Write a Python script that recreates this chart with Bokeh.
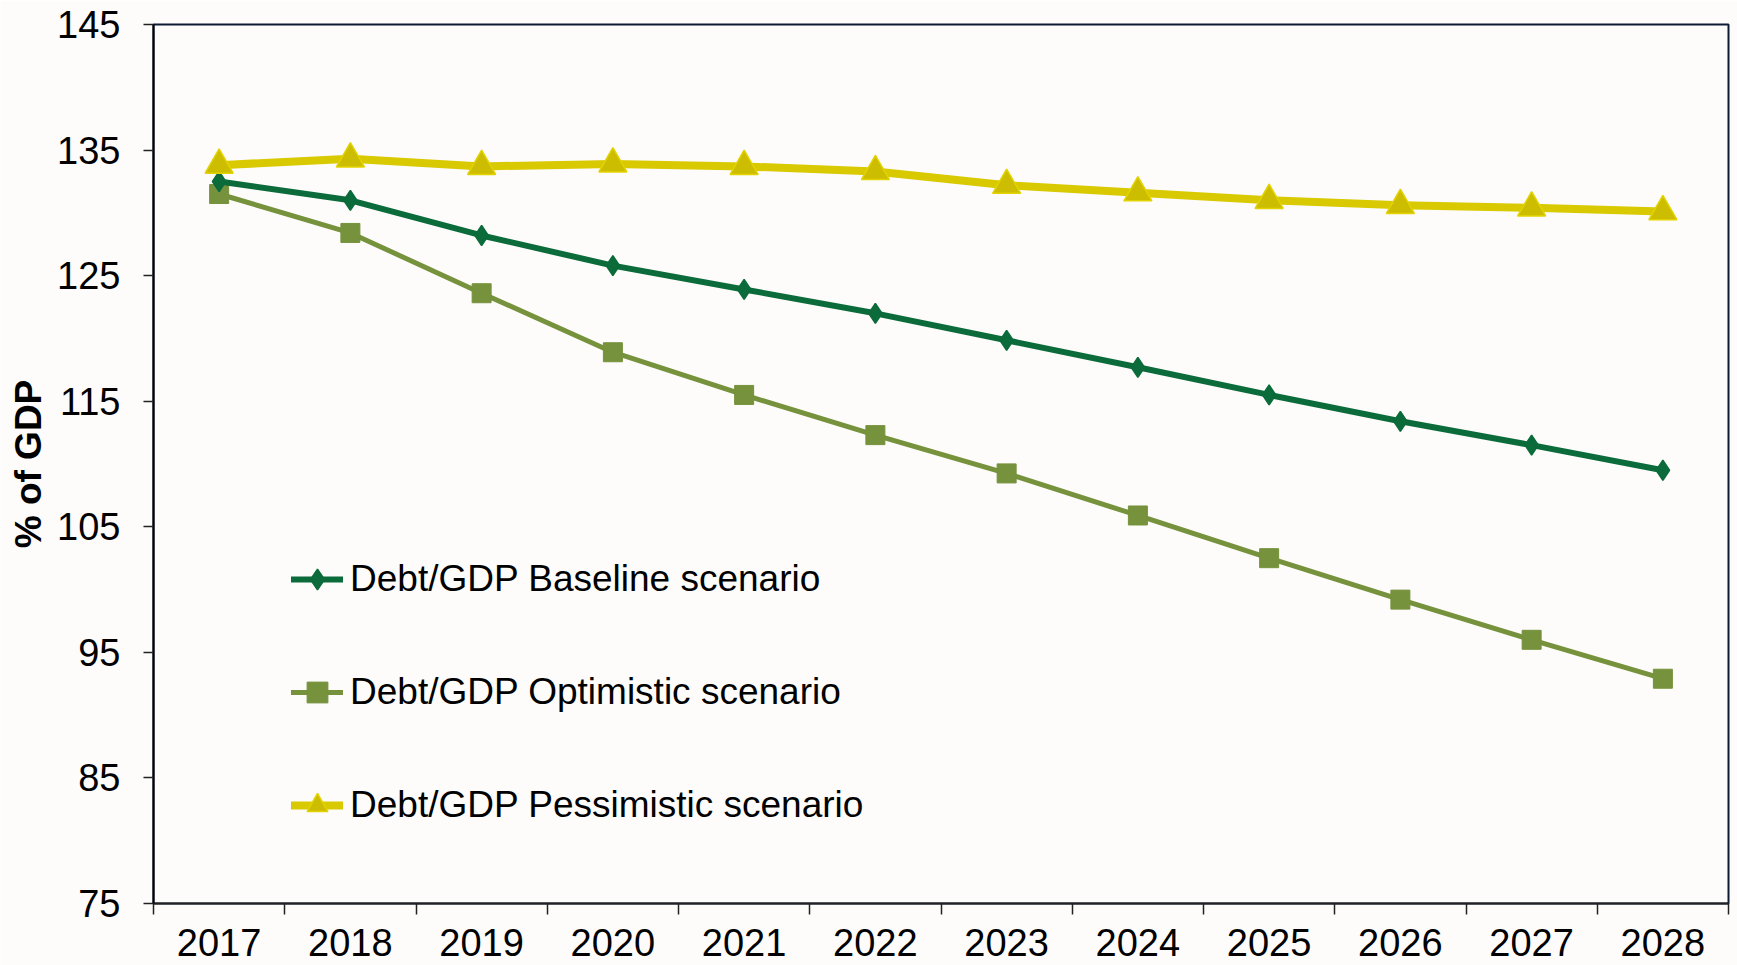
from bokeh.plotting import figure
from bokeh.models import FixedTicker, Legend, LegendItem, Range1d
from bokeh.embed import file_html
from bokeh.resources import INLINE

years = [2017, 2018, 2019, 2020, 2021, 2022, 2023, 2024, 2025, 2026, 2027, 2028]
baseline = [132.5, 131.0, 128.2, 125.8, 123.9, 122.0, 119.85, 117.7, 115.5, 113.4, 111.5, 109.5]
optimistic = [131.5, 128.4, 123.6, 118.9, 115.5, 112.3, 109.25, 105.9, 102.5, 99.2, 96.0, 92.9]
pessimistic = [133.8, 134.3, 133.7, 133.9, 133.7, 133.3, 132.2, 131.6, 131.0, 130.6, 130.4, 130.1]
y_ticks = [75, 85, 95, 105, 115, 125, 135, 145]
labels = ["Debt/GDP Baseline scenario", "Debt/GDP Optimistic scenario", "Debt/GDP Pessimistic scenario"]

FONT = "Liberation Sans"
BG = "#FDFCFA"

p = figure(width=1737, height=965, output_backend="svg", toolbar_location=None,
           x_range=Range1d(years[0] - 0.5, years[-1] + 0.5),
           y_range=Range1d(y_ticks[0], y_ticks[-1]),
           min_border_left=153, min_border_right=9, min_border_top=24, min_border_bottom=62,
           background_fill_color=BG, border_fill_color=BG)

p.outline_line_color = "#0d1a33"
p.outline_line_width = 2
p.xgrid.visible = False
p.ygrid.visible = False

# x axis
p.xaxis.ticker = FixedTicker(ticks=years, minor_ticks=[y - 0.5 for y in years] + [years[-1] + 0.5])
p.xaxis.major_tick_out = 0
p.xaxis.major_tick_in = 0
p.xaxis.minor_tick_out = 11
p.xaxis.minor_tick_in = 0
p.xaxis.minor_tick_line_color = "#222222"
p.xaxis.minor_tick_line_width = 1.5
p.xaxis.axis_line_color = "#222222"
p.xaxis.axis_line_width = 2
p.xaxis.major_label_text_font = FONT
p.xaxis.major_label_text_font_size = "38px"
p.xaxis.major_label_text_color = "black"
p.xaxis.major_label_text_line_height = 0.8
p.xaxis.major_label_standoff = 14

# y axis
p.yaxis.ticker = FixedTicker(ticks=y_ticks, minor_ticks=[])
p.yaxis.major_tick_out = 10
p.yaxis.major_tick_in = 0
p.yaxis.major_tick_line_color = "#222222"
p.yaxis.major_tick_line_width = 1.5
p.yaxis.axis_line_color = "black"
p.yaxis.axis_line_width = 2
p.yaxis.major_label_text_font = FONT
p.yaxis.major_label_text_font_size = "38px"
p.yaxis.major_label_text_color = "black"
p.yaxis.major_label_standoff = 23
p.yaxis.axis_label = "% of GDP"
p.yaxis.axis_label_text_font = FONT
p.yaxis.axis_label_text_font_size = "37px"
p.yaxis.axis_label_text_font_style = "bold"
p.yaxis.axis_label_text_color = "black"
p.yaxis.axis_label_standoff = 5

# series
lo = p.line(years, optimistic, line_color="#76923C", line_width=5, line_cap="round", line_join="round")
so = p.scatter(years, optimistic, marker="square", size=19, fill_color="#76923C", line_color="#76923C")

lb = p.line(years, baseline, line_color="#0B6B3A", line_width=6, line_cap="round", line_join="round")
sb = p.scatter(years, baseline, marker="diamond", size=20,
               fill_color="#0B6B3A", line_color="#0B6B3A", line_width=1.5)

lp = p.line(years, pessimistic, line_color="#D9C900", line_width=8, line_cap="round", line_join="round")
sp = p.scatter(years, pessimistic, marker="triangle", size=28, fill_color="#CDBD00",
               line_color="#E2D300", line_width=1.5)

legend = Legend(items=[
    LegendItem(label=labels[0], renderers=[lb, sb]),
    LegendItem(label=labels[1], renderers=[lo, so]),
    LegendItem(label=labels[2], renderers=[lp, sp]),
], location=(138, 69))
legend.background_fill_alpha = 0
legend.border_line_alpha = 0
legend.padding = 0
legend.margin = 0
legend.spacing = 55
legend.glyph_width = 52
legend.glyph_height = 58
legend.label_height = 58
legend.label_standoff = 7
legend.label_text_font = FONT
legend.label_text_font_size = "37px"
legend.label_text_color = "black"
p.add_layout(legend)

open("out.html", "w").write(file_html(p, INLINE))
